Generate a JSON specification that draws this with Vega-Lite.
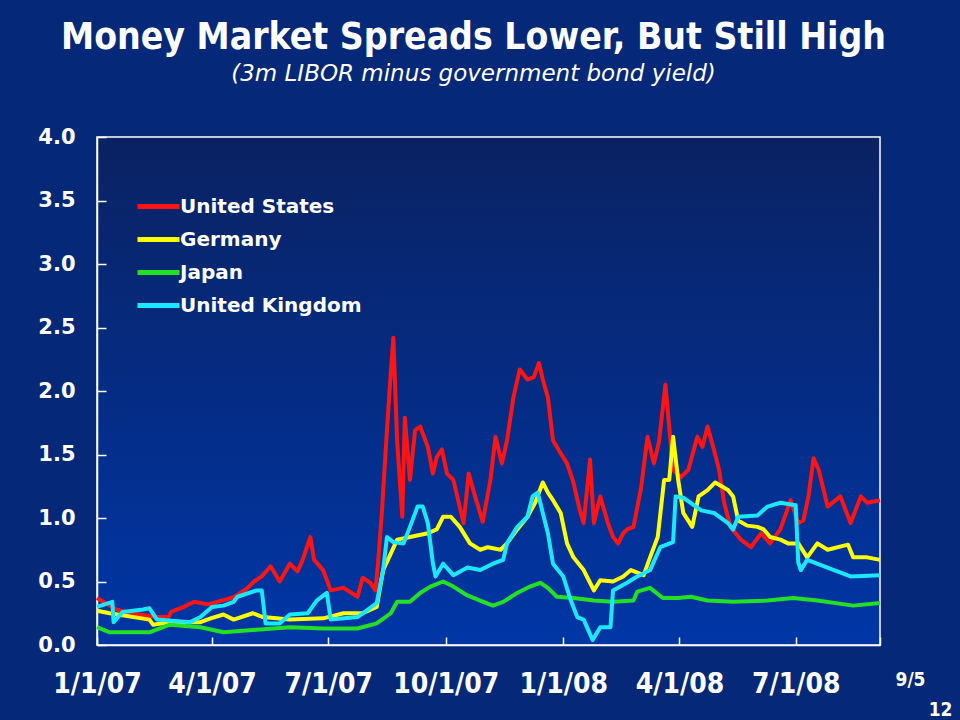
{
  "$schema": "https://vega.github.io/schema/vega-lite/v6.json",
  "description": "Money market spreads: 3m LIBOR minus government bond yield, 2007-2008",
  "width": 783,
  "height": 508,
  "autosize": {"type": "none"},
  "padding": {"left": 97, "top": 137, "right": 80, "bottom": 75},
  "background": "#062878",
  "config": {
    "view": {
      "stroke": "#ffffff",
      "strokeWidth": 1.5,
      "fill": {"gradient": "linear", "x1": 0, "y1": 0, "x2": 0, "y2": 1,
        "stops": [{"offset": 0, "color": "#0a2262"}, {"offset": 1, "color": "#0036a6"}]}
    }
  },
  "title": {
    "text": "Money Market Spreads Lower, But Still High",
    "subtitle": "(3m LIBOR minus government bond yield)",
    "anchor": "middle",
    "frame": "group",
    "dx": -15,
    "offset": 39,
    "font": "DejaVu Sans Condensed",
    "fontSize": 37,
    "fontWeight": "bold",
    "color": "#ffffff",
    "subtitleFont": "DejaVu Sans",
    "subtitleFontSize": 23,
    "subtitleFontStyle": "italic",
    "subtitleColor": "#ffffff",
    "subtitlePadding": 6
  },
  "data": {
    "format": {"parse": {"date": "utc:'%Y-%m-%d'"}},
    "values": [
      {"date": "2007-01-01", "country": "United States", "value": 0.37},
      {"date": "2007-01-06", "country": "United States", "value": 0.34},
      {"date": "2007-01-16", "country": "United States", "value": 0.28},
      {"date": "2007-01-27", "country": "United States", "value": 0.25},
      {"date": "2007-02-17", "country": "United States", "value": 0.22},
      {"date": "2007-02-26", "country": "United States", "value": 0.22},
      {"date": "2007-02-28", "country": "United States", "value": 0.26},
      {"date": "2007-03-10", "country": "United States", "value": 0.30},
      {"date": "2007-03-18", "country": "United States", "value": 0.34},
      {"date": "2007-03-29", "country": "United States", "value": 0.32},
      {"date": "2007-04-09", "country": "United States", "value": 0.35},
      {"date": "2007-04-19", "country": "United States", "value": 0.38},
      {"date": "2007-04-29", "country": "United States", "value": 0.45},
      {"date": "2007-05-04", "country": "United States", "value": 0.50},
      {"date": "2007-05-10", "country": "United States", "value": 0.54},
      {"date": "2007-05-17", "country": "United States", "value": 0.62},
      {"date": "2007-05-24", "country": "United States", "value": 0.50},
      {"date": "2007-06-01", "country": "United States", "value": 0.64},
      {"date": "2007-06-07", "country": "United States", "value": 0.58},
      {"date": "2007-06-11", "country": "United States", "value": 0.67},
      {"date": "2007-06-17", "country": "United States", "value": 0.85},
      {"date": "2007-06-20", "country": "United States", "value": 0.67},
      {"date": "2007-06-27", "country": "United States", "value": 0.59},
      {"date": "2007-07-03", "country": "United States", "value": 0.43},
      {"date": "2007-07-13", "country": "United States", "value": 0.45},
      {"date": "2007-07-24", "country": "United States", "value": 0.38},
      {"date": "2007-07-28", "country": "United States", "value": 0.53},
      {"date": "2007-08-03", "country": "United States", "value": 0.49},
      {"date": "2007-08-07", "country": "United States", "value": 0.43},
      {"date": "2007-08-09", "country": "United States", "value": 0.64},
      {"date": "2007-08-12", "country": "United States", "value": 1.04},
      {"date": "2007-08-16", "country": "United States", "value": 1.69},
      {"date": "2007-08-19", "country": "United States", "value": 2.14},
      {"date": "2007-08-21", "country": "United States", "value": 2.42},
      {"date": "2007-08-24", "country": "United States", "value": 1.60},
      {"date": "2007-08-28", "country": "United States", "value": 1.01},
      {"date": "2007-08-30", "country": "United States", "value": 1.79},
      {"date": "2007-09-03", "country": "United States", "value": 1.30},
      {"date": "2007-09-07", "country": "United States", "value": 1.69},
      {"date": "2007-09-11", "country": "United States", "value": 1.72},
      {"date": "2007-09-17", "country": "United States", "value": 1.56},
      {"date": "2007-09-21", "country": "United States", "value": 1.35},
      {"date": "2007-09-24", "country": "United States", "value": 1.48},
      {"date": "2007-09-28", "country": "United States", "value": 1.54},
      {"date": "2007-10-02", "country": "United States", "value": 1.35},
      {"date": "2007-10-07", "country": "United States", "value": 1.30},
      {"date": "2007-10-15", "country": "United States", "value": 0.96},
      {"date": "2007-10-19", "country": "United States", "value": 1.35},
      {"date": "2007-10-24", "country": "United States", "value": 1.17},
      {"date": "2007-10-30", "country": "United States", "value": 0.97},
      {"date": "2007-11-05", "country": "United States", "value": 1.30},
      {"date": "2007-11-09", "country": "United States", "value": 1.64},
      {"date": "2007-11-14", "country": "United States", "value": 1.43},
      {"date": "2007-11-18", "country": "United States", "value": 1.61},
      {"date": "2007-11-23", "country": "United States", "value": 1.95},
      {"date": "2007-11-28", "country": "United States", "value": 2.17},
      {"date": "2007-12-04", "country": "United States", "value": 2.09},
      {"date": "2007-12-09", "country": "United States", "value": 2.11},
      {"date": "2007-12-13", "country": "United States", "value": 2.22},
      {"date": "2007-12-16", "country": "United States", "value": 2.09},
      {"date": "2007-12-20", "country": "United States", "value": 1.95},
      {"date": "2007-12-24", "country": "United States", "value": 1.61},
      {"date": "2007-12-30", "country": "United States", "value": 1.51},
      {"date": "2008-01-04", "country": "United States", "value": 1.43},
      {"date": "2008-01-09", "country": "United States", "value": 1.28},
      {"date": "2008-01-14", "country": "United States", "value": 1.06},
      {"date": "2008-01-17", "country": "United States", "value": 0.96},
      {"date": "2008-01-22", "country": "United States", "value": 1.46},
      {"date": "2008-01-25", "country": "United States", "value": 0.96},
      {"date": "2008-01-30", "country": "United States", "value": 1.17},
      {"date": "2008-02-05", "country": "United States", "value": 0.96},
      {"date": "2008-02-09", "country": "United States", "value": 0.85},
      {"date": "2008-02-13", "country": "United States", "value": 0.80},
      {"date": "2008-02-17", "country": "United States", "value": 0.88},
      {"date": "2008-02-20", "country": "United States", "value": 0.91},
      {"date": "2008-02-25", "country": "United States", "value": 0.93},
      {"date": "2008-03-02", "country": "United States", "value": 1.24},
      {"date": "2008-03-07", "country": "United States", "value": 1.64},
      {"date": "2008-03-12", "country": "United States", "value": 1.43},
      {"date": "2008-03-16", "country": "United States", "value": 1.60},
      {"date": "2008-03-21", "country": "United States", "value": 2.05},
      {"date": "2008-03-27", "country": "United States", "value": 1.38},
      {"date": "2008-04-02", "country": "United States", "value": 1.32},
      {"date": "2008-04-08", "country": "United States", "value": 1.38},
      {"date": "2008-04-15", "country": "United States", "value": 1.64},
      {"date": "2008-04-19", "country": "United States", "value": 1.56},
      {"date": "2008-04-23", "country": "United States", "value": 1.72},
      {"date": "2008-04-28", "country": "United States", "value": 1.54},
      {"date": "2008-05-02", "country": "United States", "value": 1.38},
      {"date": "2008-05-06", "country": "United States", "value": 1.12},
      {"date": "2008-05-11", "country": "United States", "value": 0.93},
      {"date": "2008-05-19", "country": "United States", "value": 0.83},
      {"date": "2008-05-27", "country": "United States", "value": 0.77},
      {"date": "2008-06-04", "country": "United States", "value": 0.88},
      {"date": "2008-06-11", "country": "United States", "value": 0.80},
      {"date": "2008-06-19", "country": "United States", "value": 0.91},
      {"date": "2008-06-27", "country": "United States", "value": 1.14},
      {"date": "2008-07-03", "country": "United States", "value": 0.96},
      {"date": "2008-07-07", "country": "United States", "value": 0.98},
      {"date": "2008-07-11", "country": "United States", "value": 1.17},
      {"date": "2008-07-15", "country": "United States", "value": 1.47},
      {"date": "2008-07-19", "country": "United States", "value": 1.38},
      {"date": "2008-07-26", "country": "United States", "value": 1.09},
      {"date": "2008-08-05", "country": "United States", "value": 1.17},
      {"date": "2008-08-13", "country": "United States", "value": 0.96},
      {"date": "2008-08-21", "country": "United States", "value": 1.17},
      {"date": "2008-08-26", "country": "United States", "value": 1.12},
      {"date": "2008-09-05", "country": "United States", "value": 1.14},

      {"date": "2007-01-01", "country": "Germany", "value": 0.27},
      {"date": "2007-01-11", "country": "Germany", "value": 0.25},
      {"date": "2007-02-11", "country": "Germany", "value": 0.20},
      {"date": "2007-02-14", "country": "Germany", "value": 0.16},
      {"date": "2007-02-27", "country": "Germany", "value": 0.18},
      {"date": "2007-03-23", "country": "Germany", "value": 0.18},
      {"date": "2007-03-31", "country": "Germany", "value": 0.21},
      {"date": "2007-04-10", "country": "Germany", "value": 0.24},
      {"date": "2007-04-18", "country": "Germany", "value": 0.20},
      {"date": "2007-05-03", "country": "Germany", "value": 0.25},
      {"date": "2007-05-11", "country": "Germany", "value": 0.22},
      {"date": "2007-06-01", "country": "Germany", "value": 0.20},
      {"date": "2007-06-27", "country": "Germany", "value": 0.21},
      {"date": "2007-07-13", "country": "Germany", "value": 0.25},
      {"date": "2007-07-28", "country": "Germany", "value": 0.25},
      {"date": "2007-08-08", "country": "Germany", "value": 0.30},
      {"date": "2007-08-13", "country": "Germany", "value": 0.59},
      {"date": "2007-08-19", "country": "Germany", "value": 0.72},
      {"date": "2007-08-24", "country": "Germany", "value": 0.83},
      {"date": "2007-09-03", "country": "Germany", "value": 0.85},
      {"date": "2007-09-17", "country": "Germany", "value": 0.88},
      {"date": "2007-09-24", "country": "Germany", "value": 0.91},
      {"date": "2007-09-29", "country": "Germany", "value": 1.01},
      {"date": "2007-10-05", "country": "Germany", "value": 1.01},
      {"date": "2007-10-12", "country": "Germany", "value": 0.93},
      {"date": "2007-10-20", "country": "Germany", "value": 0.80},
      {"date": "2007-10-28", "country": "Germany", "value": 0.75},
      {"date": "2007-11-03", "country": "Germany", "value": 0.77},
      {"date": "2007-11-13", "country": "Germany", "value": 0.75},
      {"date": "2007-11-18", "country": "Germany", "value": 0.80},
      {"date": "2007-11-26", "country": "Germany", "value": 0.91},
      {"date": "2007-12-04", "country": "Germany", "value": 1.01},
      {"date": "2007-12-10", "country": "Germany", "value": 1.12},
      {"date": "2007-12-16", "country": "Germany", "value": 1.28},
      {"date": "2007-12-20", "country": "Germany", "value": 1.20},
      {"date": "2007-12-24", "country": "Germany", "value": 1.14},
      {"date": "2007-12-30", "country": "Germany", "value": 1.04},
      {"date": "2008-01-04", "country": "Germany", "value": 0.80},
      {"date": "2008-01-09", "country": "Germany", "value": 0.69},
      {"date": "2008-01-17", "country": "Germany", "value": 0.59},
      {"date": "2008-01-22", "country": "Germany", "value": 0.49},
      {"date": "2008-01-25", "country": "Germany", "value": 0.43},
      {"date": "2008-01-30", "country": "Germany", "value": 0.51},
      {"date": "2008-02-09", "country": "Germany", "value": 0.50},
      {"date": "2008-02-17", "country": "Germany", "value": 0.54},
      {"date": "2008-02-23", "country": "Germany", "value": 0.59},
      {"date": "2008-03-04", "country": "Germany", "value": 0.55},
      {"date": "2008-03-09", "country": "Germany", "value": 0.69},
      {"date": "2008-03-15", "country": "Germany", "value": 0.85},
      {"date": "2008-03-20", "country": "Germany", "value": 1.30},
      {"date": "2008-03-24", "country": "Germany", "value": 1.30},
      {"date": "2008-03-27", "country": "Germany", "value": 1.64},
      {"date": "2008-03-31", "country": "Germany", "value": 1.30},
      {"date": "2008-04-04", "country": "Germany", "value": 1.04},
      {"date": "2008-04-11", "country": "Germany", "value": 0.93},
      {"date": "2008-04-16", "country": "Germany", "value": 1.17},
      {"date": "2008-04-23", "country": "Germany", "value": 1.22},
      {"date": "2008-04-29", "country": "Germany", "value": 1.28},
      {"date": "2008-05-09", "country": "Germany", "value": 1.22},
      {"date": "2008-05-13", "country": "Germany", "value": 1.17},
      {"date": "2008-05-17", "country": "Germany", "value": 0.98},
      {"date": "2008-05-24", "country": "Germany", "value": 0.94},
      {"date": "2008-06-01", "country": "Germany", "value": 0.93},
      {"date": "2008-06-06", "country": "Germany", "value": 0.91},
      {"date": "2008-06-11", "country": "Germany", "value": 0.85},
      {"date": "2008-06-19", "country": "Germany", "value": 0.83},
      {"date": "2008-06-25", "country": "Germany", "value": 0.80},
      {"date": "2008-07-03", "country": "Germany", "value": 0.80},
      {"date": "2008-07-10", "country": "Germany", "value": 0.69},
      {"date": "2008-07-18", "country": "Germany", "value": 0.80},
      {"date": "2008-07-26", "country": "Germany", "value": 0.75},
      {"date": "2008-08-11", "country": "Germany", "value": 0.79},
      {"date": "2008-08-15", "country": "Germany", "value": 0.69},
      {"date": "2008-08-26", "country": "Germany", "value": 0.69},
      {"date": "2008-09-05", "country": "Germany", "value": 0.67},

      {"date": "2007-01-01", "country": "Japan", "value": 0.14},
      {"date": "2007-01-11", "country": "Japan", "value": 0.10},
      {"date": "2007-01-21", "country": "Japan", "value": 0.10},
      {"date": "2007-02-11", "country": "Japan", "value": 0.10},
      {"date": "2007-02-27", "country": "Japan", "value": 0.16},
      {"date": "2007-03-23", "country": "Japan", "value": 0.14},
      {"date": "2007-04-10", "country": "Japan", "value": 0.10},
      {"date": "2007-05-06", "country": "Japan", "value": 0.12},
      {"date": "2007-06-01", "country": "Japan", "value": 0.14},
      {"date": "2007-06-27", "country": "Japan", "value": 0.13},
      {"date": "2007-07-24", "country": "Japan", "value": 0.13},
      {"date": "2007-08-08", "country": "Japan", "value": 0.17},
      {"date": "2007-08-19", "country": "Japan", "value": 0.25},
      {"date": "2007-08-24", "country": "Japan", "value": 0.34},
      {"date": "2007-09-03", "country": "Japan", "value": 0.34},
      {"date": "2007-09-11", "country": "Japan", "value": 0.41},
      {"date": "2007-09-19", "country": "Japan", "value": 0.46},
      {"date": "2007-09-29", "country": "Japan", "value": 0.50},
      {"date": "2007-10-07", "country": "Japan", "value": 0.46},
      {"date": "2007-10-18", "country": "Japan", "value": 0.39},
      {"date": "2007-10-28", "country": "Japan", "value": 0.35},
      {"date": "2007-11-07", "country": "Japan", "value": 0.31},
      {"date": "2007-11-15", "country": "Japan", "value": 0.34},
      {"date": "2007-11-26", "country": "Japan", "value": 0.41},
      {"date": "2007-12-06", "country": "Japan", "value": 0.46},
      {"date": "2007-12-14", "country": "Japan", "value": 0.49},
      {"date": "2007-12-20", "country": "Japan", "value": 0.45},
      {"date": "2007-12-27", "country": "Japan", "value": 0.38},
      {"date": "2008-01-09", "country": "Japan", "value": 0.37},
      {"date": "2008-01-25", "country": "Japan", "value": 0.35},
      {"date": "2008-02-09", "country": "Japan", "value": 0.34},
      {"date": "2008-02-25", "country": "Japan", "value": 0.35},
      {"date": "2008-02-28", "country": "Japan", "value": 0.42},
      {"date": "2008-03-09", "country": "Japan", "value": 0.45},
      {"date": "2008-03-19", "country": "Japan", "value": 0.37},
      {"date": "2008-03-31", "country": "Japan", "value": 0.37},
      {"date": "2008-04-10", "country": "Japan", "value": 0.38},
      {"date": "2008-04-23", "country": "Japan", "value": 0.35},
      {"date": "2008-05-13", "country": "Japan", "value": 0.34},
      {"date": "2008-06-09", "country": "Japan", "value": 0.35},
      {"date": "2008-06-29", "country": "Japan", "value": 0.37},
      {"date": "2008-07-18", "country": "Japan", "value": 0.35},
      {"date": "2008-08-15", "country": "Japan", "value": 0.31},
      {"date": "2008-09-05", "country": "Japan", "value": 0.33},

      {"date": "2007-01-01", "country": "United Kingdom", "value": 0.30},
      {"date": "2007-01-13", "country": "United Kingdom", "value": 0.34},
      {"date": "2007-01-14", "country": "United Kingdom", "value": 0.18},
      {"date": "2007-01-21", "country": "United Kingdom", "value": 0.26},
      {"date": "2007-02-06", "country": "United Kingdom", "value": 0.28},
      {"date": "2007-02-11", "country": "United Kingdom", "value": 0.29},
      {"date": "2007-02-17", "country": "United Kingdom", "value": 0.20},
      {"date": "2007-03-15", "country": "United Kingdom", "value": 0.18},
      {"date": "2007-03-23", "country": "United Kingdom", "value": 0.22},
      {"date": "2007-04-01", "country": "United Kingdom", "value": 0.30},
      {"date": "2007-04-10", "country": "United Kingdom", "value": 0.31},
      {"date": "2007-04-18", "country": "United Kingdom", "value": 0.34},
      {"date": "2007-04-21", "country": "United Kingdom", "value": 0.38},
      {"date": "2007-05-06", "country": "United Kingdom", "value": 0.43},
      {"date": "2007-05-10", "country": "United Kingdom", "value": 0.43},
      {"date": "2007-05-13", "country": "United Kingdom", "value": 0.17},
      {"date": "2007-05-24", "country": "United Kingdom", "value": 0.17},
      {"date": "2007-06-01", "country": "United Kingdom", "value": 0.24},
      {"date": "2007-06-15", "country": "United Kingdom", "value": 0.25},
      {"date": "2007-06-22", "country": "United Kingdom", "value": 0.35},
      {"date": "2007-06-30", "country": "United Kingdom", "value": 0.41},
      {"date": "2007-07-03", "country": "United Kingdom", "value": 0.20},
      {"date": "2007-07-24", "country": "United Kingdom", "value": 0.22},
      {"date": "2007-08-08", "country": "United Kingdom", "value": 0.33},
      {"date": "2007-08-13", "country": "United Kingdom", "value": 0.59},
      {"date": "2007-08-16", "country": "United Kingdom", "value": 0.85},
      {"date": "2007-08-21", "country": "United Kingdom", "value": 0.81},
      {"date": "2007-08-29", "country": "United Kingdom", "value": 0.80},
      {"date": "2007-09-03", "country": "United Kingdom", "value": 0.93},
      {"date": "2007-09-09", "country": "United Kingdom", "value": 1.09},
      {"date": "2007-09-13", "country": "United Kingdom", "value": 1.09},
      {"date": "2007-09-17", "country": "United Kingdom", "value": 0.96},
      {"date": "2007-09-21", "country": "United Kingdom", "value": 0.64},
      {"date": "2007-09-23", "country": "United Kingdom", "value": 0.54},
      {"date": "2007-09-29", "country": "United Kingdom", "value": 0.64},
      {"date": "2007-10-07", "country": "United Kingdom", "value": 0.55},
      {"date": "2007-10-18", "country": "United Kingdom", "value": 0.61},
      {"date": "2007-10-28", "country": "United Kingdom", "value": 0.59},
      {"date": "2007-11-07", "country": "United Kingdom", "value": 0.64},
      {"date": "2007-11-15", "country": "United Kingdom", "value": 0.67},
      {"date": "2007-11-18", "country": "United Kingdom", "value": 0.80},
      {"date": "2007-11-26", "country": "United Kingdom", "value": 0.93},
      {"date": "2007-12-04", "country": "United Kingdom", "value": 1.01},
      {"date": "2007-12-08", "country": "United Kingdom", "value": 1.17},
      {"date": "2007-12-12", "country": "United Kingdom", "value": 1.20},
      {"date": "2007-12-16", "country": "United Kingdom", "value": 1.04},
      {"date": "2007-12-20", "country": "United Kingdom", "value": 0.88},
      {"date": "2007-12-24", "country": "United Kingdom", "value": 0.64},
      {"date": "2008-01-01", "country": "United Kingdom", "value": 0.54},
      {"date": "2008-01-07", "country": "United Kingdom", "value": 0.35},
      {"date": "2008-01-12", "country": "United Kingdom", "value": 0.22},
      {"date": "2008-01-17", "country": "United Kingdom", "value": 0.20},
      {"date": "2008-01-24", "country": "United Kingdom", "value": 0.04},
      {"date": "2008-01-30", "country": "United Kingdom", "value": 0.14},
      {"date": "2008-02-07", "country": "United Kingdom", "value": 0.14},
      {"date": "2008-02-09", "country": "United Kingdom", "value": 0.43},
      {"date": "2008-02-20", "country": "United Kingdom", "value": 0.49},
      {"date": "2008-02-28", "country": "United Kingdom", "value": 0.54},
      {"date": "2008-03-09", "country": "United Kingdom", "value": 0.59},
      {"date": "2008-03-17", "country": "United Kingdom", "value": 0.77},
      {"date": "2008-03-27", "country": "United Kingdom", "value": 0.81},
      {"date": "2008-03-29", "country": "United Kingdom", "value": 1.17},
      {"date": "2008-04-04", "country": "United Kingdom", "value": 1.16},
      {"date": "2008-04-18", "country": "United Kingdom", "value": 1.06},
      {"date": "2008-04-28", "country": "United Kingdom", "value": 1.04},
      {"date": "2008-05-09", "country": "United Kingdom", "value": 0.96},
      {"date": "2008-05-13", "country": "United Kingdom", "value": 0.91},
      {"date": "2008-05-17", "country": "United Kingdom", "value": 1.01},
      {"date": "2008-06-01", "country": "United Kingdom", "value": 1.02},
      {"date": "2008-06-09", "country": "United Kingdom", "value": 1.09},
      {"date": "2008-06-19", "country": "United Kingdom", "value": 1.12},
      {"date": "2008-07-01", "country": "United Kingdom", "value": 1.10},
      {"date": "2008-07-03", "country": "United Kingdom", "value": 0.65},
      {"date": "2008-07-05", "country": "United Kingdom", "value": 0.59},
      {"date": "2008-07-10", "country": "United Kingdom", "value": 0.67},
      {"date": "2008-07-31", "country": "United Kingdom", "value": 0.59},
      {"date": "2008-08-13", "country": "United Kingdom", "value": 0.54},
      {"date": "2008-09-05", "country": "United Kingdom", "value": 0.55}
    ]
  },
  "mark": {"type": "line", "strokeWidth": 4, "strokeJoin": "round"},
  "encoding": {
    "x": {
      "field": "date",
      "type": "temporal",
      "scale": {
        "type": "utc",
        "domain": [
          {"year": 2007, "month": 1, "date": 1, "utc": true},
          {"year": 2008, "month": 9, "date": 5, "utc": true}
        ]
      },
      "axis": {
        "values": [
          {"year": 2007, "month": 1, "date": 1, "utc": true},
          {"year": 2007, "month": 4, "date": 1, "utc": true},
          {"year": 2007, "month": 7, "date": 1, "utc": true},
          {"year": 2007, "month": 10, "date": 1, "utc": true},
          {"year": 2008, "month": 1, "date": 1, "utc": true},
          {"year": 2008, "month": 4, "date": 1, "utc": true},
          {"year": 2008, "month": 7, "date": 1, "utc": true},
          {"year": 2008, "month": 9, "date": 5, "utc": true}
        ],
        "labelExpr": "datum.value > utc(2008, 7, 15) ? '9/5' : utcFormat(datum.value, '%-m/%-d/%y')",
        "labelFont": "DejaVu Sans Condensed",
        "labelFontWeight": "bold",
        "labelFontSize": {"condition": {"test": "datum.value > utc(2008, 7, 15)", "value": 19}, "value": 28},
        "labelOffset": {"condition": {"test": "datum.value > utc(2008, 7, 15)", "value": 30}, "value": 0},
        "labelColor": "#ffffff",
        "labelBaseline": "top",
        "labelPadding": 33,
        "labelFlush": false,
        "labelOverlap": false,
        "labelBound": false,
        "grid": false,
        "domainColor": "#ffffff",
        "domainWidth": 1.5,
        "tickColor": "#ffffff",
        "tickWidth": 1.5,
        "tickSize": -8,
        "title": "12",
        "titleFont": "DejaVu Sans Condensed",
        "titleFontWeight": "bold",
        "titleFontSize": 19,
        "titleColor": "#ffffff",
        "titleAlign": "right",
        "titleBaseline": "alphabetic",
        "titleX": 855,
        "titleY": 70
      }
    },
    "y": {
      "field": "value",
      "type": "quantitative",
      "scale": {"domain": [0, 4], "nice": false},
      "axis": {
        "values": [0, 0.5, 1, 1.5, 2, 2.5, 3, 3.5, 4],
        "format": ".1f",
        "title": null,
        "grid": false,
        "labelFont": "DejaVu Sans",
        "labelFontWeight": "bold",
        "labelFontSize": 21,
        "labelColor": "#ffffff",
        "labelPadding": 31,
        "domainColor": "#ffffff",
        "domainWidth": 1.5,
        "tickColor": "#ffffff",
        "tickWidth": 1.5,
        "tickSize": -9
      }
    },
    "color": {
      "field": "country",
      "type": "nominal",
      "scale": {
        "domain": ["United States", "Germany", "Japan", "United Kingdom"],
        "range": ["#ff1414", "#ffff00", "#22e022", "#1ae8ff"]
      },
      "legend": {
        "title": null,
        "orient": "none",
        "legendX": 49,
        "legendY": 57,
        "padding": 0,
        "symbolType": "M-2.1,0H2.1",
        "symbolSize": 400,
        "symbolStrokeWidth": 5,
        "rowPadding": 10,
        "labelOffset": 9,
        "labelFont": "DejaVu Sans",
        "labelFontWeight": "bold",
        "labelFontSize": 20,
        "labelColor": "#ffffff",
        "labelLimit": 300
      }
    }
  }
}
